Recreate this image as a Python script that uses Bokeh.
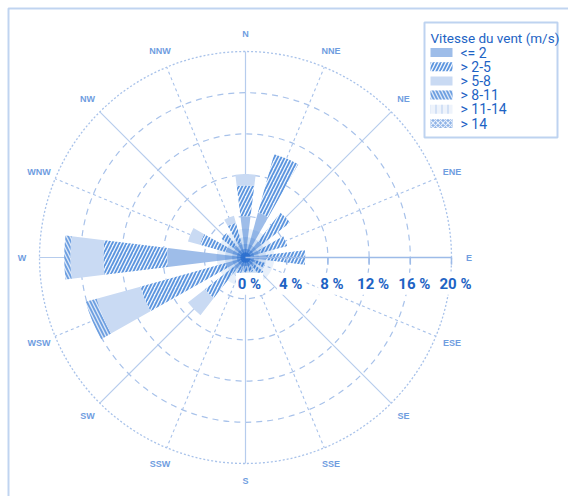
import numpy as np
from bokeh.plotting import figure
from bokeh.models import Range1d, ColumnDataSource, BoxAnnotation
from bokeh.core.properties import value
from bokeh.embed import file_html
from bokeh.resources import INLINE

# ---- data -------------------------------------------------------------
directions = ["N", "NNE", "NE", "ENE", "E", "ESE", "SE", "SSE",
              "S", "SSW", "SW", "WSW", "W", "WNW", "NW", "NNW"]

speed_classes = ["<= 2", "> 2-5", "> 5-8", "> 8-11", "> 11-14", "> 14"]

# frequency (%) of each speed class per direction
freq_le2 = [4.0, 4.5, 2.0, 1.5, 2.0, 1.0, 1.0, 0.8, 0.8, 1.0, 1.5, 2.0, 7.6, 2.0, 1.5, 1.5]
freq_2_5 = [3.0, 5.9, 3.5, 2.7, 3.8, 1.0, 1.2, 0.7, 0.6, 1.0, 3.5, 8.6, 6.2, 2.6, 1.5, 2.0]
freq_5_8 = [1.1, 0.0, 0.0, 0.0, 0.0, 0.0, 0.0, 0.0, 0.0, 0.0, 2.1, 4.4, 3.2, 1.2, 0.0, 0.7]
freq_8_11 = [0.0, 0.0, 0.0, 0.0, 0.0, 0.0, 0.0, 0.0, 0.0, 0.0, 0.0, 1.1, 0.6, 0.0, 0.0, 0.0]
freq_11_14 = [0.0] * 16
freq_gt14 = [0.0] * 16

ring_values = [0, 4, 8, 12, 16, 20]
ring_labels = ["0 %", "4 %", "8 %", "12 %", "16 %", "20 %"]

legend_title = "Vitesse du vent (m/s)"

# ---- layout -----------------------------------------------------------
W, H = 568, 496
CX, CY = 245, 257          # pole position in pixels (from top-left)
PX = 206 / 20.0            # pixels per percent
R_MAX = ring_values[-1]


def sx(px):
    """canvas x pixel -> plot coordinate"""
    return (px - CX) / PX


def sy(py):
    """canvas y pixel (from top) -> plot coordinate"""
    return (CY - py) / PX


BLUE = "#1d63c4"
GRID = "#a8c2ea"
FONT = "Roboto"

p = figure(width=W, height=H, output_backend="svg", toolbar_location=None,
           x_range=Range1d(sx(0), sx(W)), y_range=Range1d(sy(H), sy(0)),
           min_border=0, outline_line_color=None, background_fill_color="white")
p.axis.visible = False
p.grid.visible = False

# outer frame (top and left edges visible)
p.add_layout(BoxAnnotation(left=sx(8), right=1000, top=sy(8), bottom=-1000,
                           fill_alpha=0, line_color="#2f72cc", line_width=2))

# ---- polar grid -------------------------------------------------------
compass = np.deg2rad(np.arange(16) * 22.5)
theta = np.pi / 2 - compass

p.circle(x=0, y=0, radius=ring_values[1:-1], fill_color=None,
         line_color=GRID, line_width=1.2, line_dash="6 5")
p.circle(x=0, y=0, radius=R_MAX, fill_color=None,
         line_color=GRID, line_width=1.3, line_dash="2 2")

main = np.arange(16) % 2 == 0
p.segment(x0=0, y0=0, x1=R_MAX * np.cos(theta[main]), y1=R_MAX * np.sin(theta[main]),
          line_color="#b6cced", line_width=1.2)
p.segment(x0=0, y0=0, x1=R_MAX * np.cos(theta[~main]), y1=R_MAX * np.sin(theta[~main]),
          line_color=GRID, line_width=1.1, line_dash="3 3")

# ---- stacked wedges ---------------------------------------------------
half = np.deg2rad(7.0)
styles = [
    dict(fill_color="#9ebde9"),
    dict(fill_color="#f2f6fd", hatch_pattern="/", hatch_color="#5b95de", hatch_weight=1.8, hatch_scale=7),
    dict(fill_color="#c9daf3"),
    dict(fill_color="#dde8f8", hatch_pattern="\\", hatch_color="#6d9fe0", hatch_weight=1.8, hatch_scale=7),
    dict(fill_color="#eef3fb", hatch_pattern="|", hatch_color="#c9daf3", hatch_weight=1.5, hatch_scale=6),
    dict(fill_color="#8fb3e6", hatch_pattern="x", hatch_color="#e8f0fb", hatch_weight=1.2, hatch_scale=5),
]
classes = [freq_le2, freq_2_5, freq_5_8, freq_8_11, freq_11_14, freq_gt14]

base = np.zeros(16)
for vals, st in zip(classes, styles):
    top = base + np.array(vals)
    src = ColumnDataSource(dict(inner=base.copy(), outer=top,
                                start=theta - half, end=theta + half))
    p.annular_wedge(x=0, y=0, inner_radius="inner", outer_radius="outer",
                    start_angle="start", end_angle="end", source=src,
                    line_color=None, **st)
    base = top

# darker glow at the pole where the wedges meet
for rad, alpha in [(2.8, 0.10), (2.0, 0.14), (1.3, 0.22), (0.85, 0.4), (0.5, 0.7)]:
    p.circle(x=0, y=0, radius=rad, fill_color="#1f67cc", fill_alpha=alpha, line_color=None)

# ---- radial axis along E ---------------------------------------------
p.segment(x0=0, y0=0, x1=R_MAX, y1=0, line_color="#9dbbe8", line_width=1.5)
tick_x = np.array(ring_values[1:], dtype=float)
p.segment(x0=tick_x, y0=0, x1=tick_x, y1=-0.7, line_color="#9dbbe8", line_width=1.5)

p.text(x=np.array(ring_values, dtype=float), y=-2.55, text=ring_labels,
       text_font=value(FONT), text_font_style="bold", text_font_size="15px",
       text_color=BLUE, text_align="center", text_baseline="middle", x_offset=4,
       background_fill_color="white", padding=2)

# ---- compass labels ---------------------------------------------------
R_LAB = 21.7
p.text(x=R_LAB * np.cos(theta), y=R_LAB * np.sin(theta), text=directions,
       text_font=value("Liberation Sans"), text_font_style="bold", text_font_size="9px",
       text_color="#6f9ddf", text_align="center", text_baseline="middle")

# ---- legend -----------------------------------------------------------
p.quad(left=sx(424), right=sx(557), top=sy(22), bottom=sy(137),
       fill_color="white", line_color="#bed3f0", line_width=2)
p.text(x=sx(430), y=sy(37), text=[legend_title],
       text_font=value(FONT), text_font_size="13.5px", text_color=BLUE,
       text_align="left", text_baseline="middle")

row_y = np.array([sy(52 + 14.2 * i) for i in range(len(speed_classes))])
for yy, st in zip(row_y, styles):
    p.rect(x=sx(441), y=yy, width=22 / PX, height=9 / PX, line_color=None, **st)
p.text(x=sx(460), y=row_y, text=speed_classes,
       text_font=value(FONT), text_font_size="14px", text_color=BLUE,
       text_align="left", text_baseline="middle")

open("out.html", "w").write(file_html(p, INLINE))
